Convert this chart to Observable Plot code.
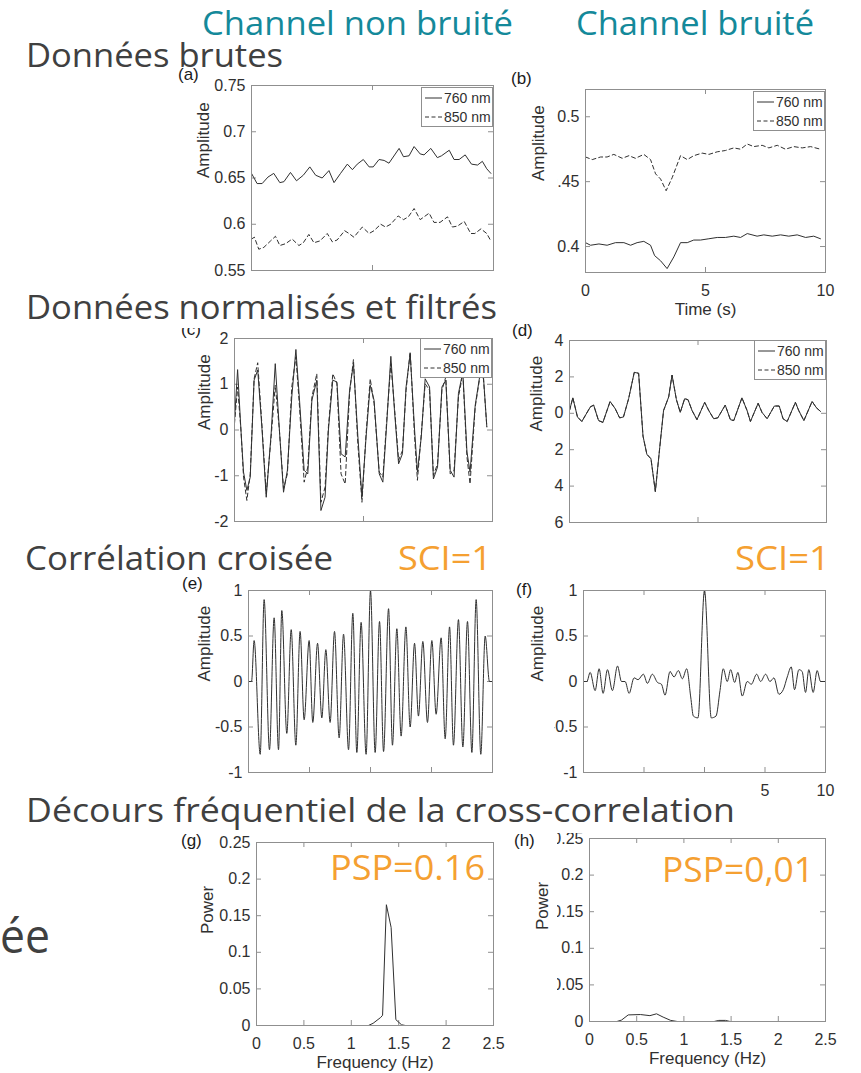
<!DOCTYPE html>
<html><head><meta charset="utf-8">
<script src="https://cdn.jsdelivr.net/npm/d3@7"></script>
<script src="https://cdn.jsdelivr.net/npm/@observablehq/plot@0.6"></script>
<style>
body{margin:0;background:#fff;}
#root{position:relative;width:861px;height:1073px;overflow:hidden;background:#fff;}
.pn{position:absolute;}
</style></head><body><div id="root"></div>
<script>
// ---------- DATA ----------
// (a) raw data, clean channel
const a760_t = [0,0.23,0.44,0.68,0.92,1.17,1.34,1.61,1.86,2.14,2.41,2.65,2.92,3.2,3.41,3.68,3.96,4.17,4.37,4.62,4.86,5.03,5.27,5.48,5.68,6.1,6.28,6.51,6.72,6.97,7.13,7.41,7.68,7.85,8.17,8.37,8.58,8.83,9.09,9.34,9.54,9.72,9.89];
const a760_v = [0.655,0.644,0.644,0.651,0.655,0.645,0.646,0.656,0.647,0.653,0.662,0.653,0.650,0.658,0.645,0.655,0.665,0.659,0.665,0.670,0.662,0.662,0.670,0.669,0.666,0.682,0.673,0.674,0.684,0.676,0.675,0.682,0.672,0.674,0.680,0.670,0.670,0.675,0.665,0.664,0.668,0.660,0.655];
const a850_t = [0,0.12,0.30,0.51,0.79,0.99,1.17,1.41,1.68,1.96,2.14,2.37,2.58,2.83,3.13,3.34,3.54,3.85,4.03,4.23,4.58,4.86,5.06,5.34,5.54,5.75,6.06,6.28,6.48,6.72,6.97,7.13,7.34,7.54,7.79,8.1,8.3,8.51,8.79,9.06,9.23,9.48,9.72,9.89];
const a850_v = [0.584,0.586,0.573,0.575,0.582,0.587,0.577,0.579,0.584,0.577,0.580,0.589,0.580,0.582,0.590,0.581,0.583,0.593,0.590,0.586,0.597,0.590,0.593,0.600,0.597,0.600,0.609,0.605,0.608,0.617,0.605,0.608,0.612,0.602,0.602,0.608,0.597,0.598,0.603,0.590,0.590,0.595,0.590,0.582];
// (b) raw data, noisy channel
const b760_t = [0,0.21,0.56,0.90,1.25,1.60,1.88,2.15,2.43,2.71,2.88,3.13,3.40,3.68,3.96,4.24,4.51,4.79,5.14,5.49,5.83,6.18,6.46,6.74,7.15,7.43,7.78,8.13,8.47,8.82,9.17,9.51,9.79];
const b760_v = [0.403,0.401,0.402,0.401,0.403,0.403,0.401,0.403,0.404,0.401,0.393,0.389,0.383,0.392,0.403,0.403,0.405,0.405,0.406,0.407,0.407,0.408,0.407,0.410,0.408,0.409,0.408,0.409,0.408,0.409,0.407,0.408,0.406];
const b850_t = [0,0.28,0.63,0.90,1.18,1.53,1.81,2.08,2.43,2.71,2.92,3.13,3.36,3.61,3.96,4.24,4.51,4.86,5.14,5.49,5.83,6.18,6.46,6.74,7.01,7.36,7.64,7.99,8.33,8.68,9.03,9.38,9.79];
const b850_v = [0.469,0.467,0.469,0.469,0.471,0.468,0.470,0.468,0.471,0.467,0.456,0.452,0.443,0.453,0.470,0.467,0.470,0.472,0.471,0.473,0.474,0.476,0.475,0.479,0.477,0.478,0.476,0.478,0.475,0.477,0.476,0.477,0.475];
// (c) normalised + filtered, clean channel
const c_t = [0,0.12,0.25,0.35,0.48,0.61,0.76,0.9,1.06,1.23,1.42,1.58,1.74,1.9,2.05,2.22,2.38,2.52,2.7,2.84,3.0,3.19,3.35,3.51,3.64,3.81,3.97,4.13,4.29,4.46,4.61,4.78,4.94,5.1,5.26,5.41,5.61,5.75,5.9,6.06,6.2,6.36,6.51,6.65,6.81,6.98,7.09,7.24,7.39,7.56,7.71,7.87,8.04,8.19,8.36,8.51,8.68,8.85,9.01,9.13,9.33,9.52,9.65,9.78];
const c760_v = [0.2,1.32,0,-0.92,-1.32,-1.03,1.09,1.31,0.07,-1.47,-0.08,1.45,0,-1.36,-0.88,0.72,1.76,0.65,-0.88,-0.96,0.65,1.09,-1.76,-1.47,0,1.09,1.05,-0.52,-0.59,0.87,1.45,-0.12,-1.47,-0.15,0.98,0.65,-0.96,-1.14,0.14,1.61,0.43,-0.74,-0.52,0.94,1.67,0,-0.92,-0.15,1.12,0.94,-1.07,-0.81,0.94,1.09,-0.88,-1.03,0.8,1.27,-0.48,-0.92,0.54,1.23,1.16,0.07];
const c850_v = [0.14,0.94,0,-1.03,-1.54,-0.96,1.12,1.47,0.14,-1.39,-0.15,0.98,0,-1.28,-0.96,0.94,1.6,0.5,-1.14,-0.81,0.72,1.23,-1.58,-1.25,0.07,1.23,1.01,-0.96,-1.18,0.8,1.54,-0.3,-1.58,-0.08,1.12,0.58,-0.92,-1.03,0.21,1.45,0.5,-0.66,-0.45,0.87,1.71,-0.15,-1.1,-0.08,1.01,0.87,-0.99,-0.74,0.87,1.16,-0.96,-0.88,0.72,1.23,-0.59,-1.18,0.5,1.2,1.12,0.07];
// (d) normalised + filtered, noisy channel
const d_t = [0,0.13,0.31,0.48,0.81,0.94,1.13,1.30,1.58,1.78,1.95,2.10,2.30,2.52,2.69,2.86,3.01,3.17,3.34,3.51,3.66,3.86,3.99,4.16,4.31,4.48,4.61,4.77,4.96,5.26,5.42,5.61,5.77,6.06,6.26,6.39,6.71,6.91,7.04,7.34,7.49,7.69,7.97,8.16,8.31,8.47,8.79,8.92,9.12,9.44,9.61,9.77];
const d760_v = [0.15,0.85,-0.2,-0.45,0.35,0.45,-0.4,-0.5,0.65,0.25,-0.25,-0.2,0.8,2.25,2.2,-1.25,-2.25,-2.5,-4.3,-1.9,0.15,0.9,2.1,0.75,0.05,0.8,0.75,0.15,-0.35,0.6,0.15,-0.3,-0.25,0.45,-0.35,-0.4,0.85,0.15,-0.45,0.55,0.05,-0.3,0.4,0.4,-0.3,-0.45,0.6,0.15,-0.4,0.65,0.3,0.1];
const d850_v = [0.15,0.85,-0.2,-0.45,0.35,0.45,-0.4,-0.5,0.65,0.25,-0.25,-0.2,0.8,2.25,2.2,-1.25,-2.25,-2.5,-4.3,-1.9,0.15,0.9,2.1,0.75,0.05,0.8,0.75,0.15,-0.35,0.6,0.15,-0.3,-0.25,0.45,-0.35,-0.4,0.85,0.15,-0.45,0.55,0.05,-0.3,0.4,0.4,-0.3,-0.45,0.6,0.15,-0.4,0.65,0.3,0.1];
// (e) cross-correlation, clean channel
const e_lag = [-10,-9.75,-9.54,-9.04,-8.72,-8.28,-7.90,-7.54,-7.27,-6.86,-6.50,-6.12,-5.77,-5.44,-5.03,-4.73,-4.34,-3.99,-3.66,-3.31,-2.95,-2.57,-2.21,-1.80,-1.45,-1.12,-0.77,-0.36,0,0.38,0.74,1.07,1.48,1.80,2.16,2.51,2.90,3.25,3.61,3.93,4.29,4.67,5.03,5.38,5.79,6.12,6.48,6.80,7.21,7.57,7.95,8.31,8.66,9.04,9.40,9.75,10];
const e_v = [0,0,0.45,-0.8,0.9,-0.75,0.7,-0.75,0.78,-0.57,0.57,-0.7,0.55,-0.42,0.45,-0.45,0.42,-0.4,0.35,-0.45,0.55,-0.62,0.52,-0.75,0.75,-0.78,0.65,-0.8,1.0,-0.78,0.66,-0.77,0.8,-0.7,0.58,-0.6,0.6,-0.5,0.42,-0.38,0.44,-0.45,0.45,-0.36,0.48,-0.63,0.6,-0.7,0.68,-0.72,0.66,-0.78,0.9,-0.8,0.5,0,0];
// (f) cross-correlation, noisy channel
const f_lag = [-10,-9.72,-9.45,-9.04,-8.71,-8.38,-8.02,-7.61,-7.19,-6.86,-6.56,-6.23,-5.82,-5.49,-5.05,-4.72,-4.31,-3.89,-3.56,-3.26,-2.85,-2.52,-2.16,-1.83,-1.47,-1.14,-0.92,-0.54,0,0.56,0.95,1.28,1.55,1.88,2.16,2.49,2.76,3.12,3.53,3.87,4.31,4.64,5.05,5.41,5.74,6.15,6.51,6.84,7.17,7.44,7.80,8.07,8.35,8.62,8.98,9.31,9.59,10];
const f_v = [0,0,0.1,-0.1,0.14,-0.13,0.13,-0.1,0.17,0,0,-0.13,0.04,0.02,0.08,-0.02,0.08,-0.01,-0.03,-0.15,0.11,0.05,0.12,0.03,0.14,-0.17,-0.38,-0.4,1.0,-0.4,-0.38,-0.1,0.14,0,0.13,-0.01,0.1,-0.16,0,-0.03,0.08,0,0.08,0,0.04,-0.14,-0.09,0.05,0.16,-0.09,0.13,0.11,-0.12,0.13,-0.12,0.12,0,0];
// (g)/(h) power spectra of the cross-correlation
const g_freq = [0,1.18,1.23,1.31,1.33,1.37,1.42,1.47,1.53,1.57,2.5];
const g_pow  = [0,0,0.003,0.011,0.014,0.165,0.134,0.008,0.001,0,0];
const h_freq = [0,0.29,0.34,0.41,0.54,0.64,0.71,0.78,0.86,0.93,1.32,1.37,1.44,1.49,2.5];
const h_pow  = [0,0,0.002,0.009,0.0095,0.008,0.0105,0.006,0.0015,0,0,0.0015,0.0015,0,0];
// ticks & labels
const timeTicks = [0,5,10];
const lagTicks = [-10,-5,0,5,10];
const freqTicks = [0,0.5,1,1.5,2,2.5];
const aTicks = [0.55,0.6,0.65,0.7,0.75];
const bTicks = [0.4,0.45,0.5];
const cTicks = [-2,-1,0,1,2];
const dTicks = [-6,-4,-2,0,2,4];
const corrTicks = [-1,-0.5,0,0.5,1];
const powTicks = [0,0.05,0.1,0.15,0.2,0.25];
const legendLabels = ["760 nm","850 nm"];
const colHeads = ["Channel non bruité","Channel bruité"];

// ---------- STYLE ----------
const FONT = "'Liberation Sans', Arial, sans-serif";
const HFONT = "'Open Sans', 'Noto Sans', sans-serif";
const INK = "#303030", FRAME = "#8f8f8f", GREY = "#404040", TEAL = "#14899a", ORANGE = "#f5a031";
const root = document.getElementById("root");
const mL = 70, mR = 10, mT = 8, mB = 58;
const fmt = d => String(d);

function panel(cfg) {
  const [x0, x1, y0, y1] = cfg.frame;
  const W = x1 - x0, H = y1 - y0;
  const marks = [
    Plot.ruleX(cfg.xTicks, {x: d => d, insetTop: H - 5, stroke: FRAME}),
    Plot.ruleX(cfg.xTicks, {x: d => d, insetBottom: H - 5, stroke: FRAME}),
    Plot.ruleY(cfg.yTicks, {y: d => d, insetLeft: W - 5, stroke: FRAME}),
    Plot.ruleY(cfg.yTicks, {y: d => d, insetRight: W - 5, stroke: FRAME}),
    Plot.axisY({ticks: cfg.yTicks, tickSize: 0, tickPadding: 6, tickFormat: fmt, label: null, fontSize: 16}),
    Plot.text([cfg.yLabel], {text: d => d, frameAnchor: "left", rotate: -90, dx: -cfg.yOff, fontSize: 17})
  ];
  if (cfg.xLabels) marks.push(Plot.axisX({ticks: cfg.xTicks, tickSize: 0, tickPadding: 12, tickFormat: cfg.xFmt || fmt, label: null, fontSize: 16}));
  if (cfg.xLabel) marks.push(Plot.text([cfg.xLabel], {text: d => d, frameAnchor: "bottom", dy: 42, fontSize: 17}));
  for (const s of cfg.series) {
    marks.push(Plot.line(d3.zip(s.x, s.y), {x: d => d[0], y: d => d[1], stroke: INK, strokeWidth: 1,
      strokeDasharray: s.dash ? "4,3" : undefined, curve: cfg.curve || "linear"}));
  }
  marks.push(Plot.frame({stroke: FRAME}));
  const chart = Plot.plot({
    width: W + mL + mR, height: H + mT + mB,
    marginLeft: mL, marginRight: mR, marginTop: mT, marginBottom: mB,
    x: cfg.xLabels ? {domain: cfg.xDomain} : {domain: cfg.xDomain, axis: null},
    y: {domain: cfg.yDomain},
    style: {fontFamily: FONT, fontSize: "16px", color: INK, background: "transparent", overflow: "visible"},
    marks
  });
  const div = document.createElement("div");
  div.className = "pn";
  div.style.left = (x0 - mL) + "px";
  div.style.top = (y0 - mT) + "px";
  div.appendChild(chart);
  root.appendChild(div);
  return chart;
}

const P = {
  a: {frame: [251, 493, 85, 270], xDomain: [0, 10], yDomain: [0.55, 0.75], xTicks: timeTicks, yTicks: aTicks, yLabel: "Amplitude", yOff: 48,
      series: [{x: a760_t, y: a760_v}, {x: a850_t, y: a850_v, dash: true}]},
  b: {frame: [585, 825, 89, 272], xDomain: [0, 10], yDomain: [0.38, 0.521], xTicks: timeTicks, yTicks: bTicks, yLabel: "Amplitude", yOff: 47,
      xLabels: true, xLabel: "Time (s)", series: [{x: b760_t, y: b760_v}, {x: b850_t, y: b850_v, dash: true}]},
  c: {frame: [234, 492, 338, 521], xDomain: [0, 10], yDomain: [-2, 2], xTicks: timeTicks, yTicks: cTicks, yLabel: "Amplitude", yOff: 30,
      series: [{x: c_t, y: c760_v}, {x: c_t, y: c850_v, dash: true}]},
  d: {frame: [569, 826, 340, 522], xDomain: [0, 10], yDomain: [-6, 4], xTicks: timeTicks, yTicks: dTicks, yLabel: "Amplitude", yOff: 33,
      series: [{x: d_t, y: d760_v}, {x: d_t, y: d850_v, dash: true}]},
  e: {frame: [248, 492, 590, 772], xDomain: [-10, 10], yDomain: [-1, 1], xTicks: lagTicks, yTicks: corrTicks, yLabel: "Amplitude", yOff: 44,
      curve: "monotone-x", series: [{x: e_lag, y: e_v}]},
  f: {frame: [583, 825, 590, 772], xDomain: [-10, 10], yDomain: [-1, 1], xTicks: lagTicks, yTicks: corrTicks, yLabel: "Amplitude", yOff: 46,
      xLabels: true, xFmt: d => d > 0 ? String(d) : "", curve: "monotone-x", series: [{x: f_lag, y: f_v}]},
  g: {frame: [256, 493, 842, 1025], xDomain: [0, 2.5], yDomain: [0, 0.25], xTicks: freqTicks, yTicks: powTicks, yLabel: "Power", yOff: 49,
      xLabels: true, xLabel: "Frequency (Hz)", series: [{x: g_freq, y: g_pow}]},
  h: {frame: [589, 825, 838, 1021], xDomain: [0, 2.5], yDomain: [0, 0.25], xTicks: freqTicks, yTicks: powTicks, yLabel: "Power", yOff: 47,
      xLabels: true, xLabel: "Frequency (Hz)", series: [{x: h_freq, y: h_pow}]}
};
const charts = {};
for (const k of Object.keys(P)) charts[k] = panel(P[k]);

// ---------- OVERLAY ----------
const ov = d3.select(root).append("svg").attr("width", 861).attr("height", 1073)
  .style("position", "absolute").style("left", "0px").style("top", "0px");

// partially hidden tick labels (cropped in the original slide)
const masks = [["b", [0.45], 547, 557], ["d", [-2, -4, -6], 546, 554], ["f", [-0.5], 546, 554.5], ["h", [0.25, 0.15, 0.05], 550, 557]];
for (const [k, vals, mx0, mx1] of masks) {
  const sy = charts[k].scale("y");
  for (const v of vals) {
    const yy = P[k].frame[2] - mT + sy.apply(v);
    ov.append("rect").attr("x", mx0).attr("y", yy - 9).attr("width", mx1 - mx0).attr("height", 18).attr("fill", "#fff");
  }
}

// panel letters
const letters = [["(a)", 178, 80], ["(b)", 511, 84], ["(c)", 181, 335], ["(d)", 512, 336], ["(e)", 182, 589], ["(f)", 516, 595], ["(g)", 181, 846], ["(h)", 514, 846]];
for (const [t, x, y] of letters) ov.append("text").attr("x", x).attr("y", y).attr("font-family", FONT).attr("font-size", 17).attr("fill", "#1a1a1a").text(t);

// white boxes behind slide titles
ov.append("rect").attr("x", 18).attr("y", 276).attr("width", 482).attr("height", 52).attr("fill", "#fff");
ov.append("rect").attr("x", 18).attr("y", 795).attr("width", 720).attr("height", 38).attr("fill", "#fff");

function htext(t, x, y, len, size, color) {
  ov.append("text").attr("x", x).attr("y", y).attr("font-family", HFONT).attr("font-size", size)
    .attr("fill", color).attr("textLength", len).attr("lengthAdjust", "spacingAndGlyphs").text(t);
}
htext(colHeads[0], 202, 35, 311, 33, TEAL);
htext(colHeads[1], 576, 35, 238, 33, TEAL);
htext("Données brutes", 26, 67, 257, 33, GREY);
htext("Données normalisés et filtrés", 26, 319, 471, 33, GREY);
htext("Corrélation croisée", 25, 570, 308, 33, GREY);
htext("SCI=1", 398, 570, 94, 33, ORANGE);
htext("SCI=1", 735, 570, 95, 33, ORANGE);
htext("Décours fréquentiel de la cross-correlation", 26, 822, 709, 33, GREY);
htext("ée", 0, 953, 50, 48, GREY);
htext("PSP=0.16", 330, 880, 155, 34, ORANGE);
htext("PSP=0,01", 662, 882, 152, 34, ORANGE);

// legends
function legend(k, dy) {
  const [x0, x1, y0] = P[k].frame;
  const w = 72, h = 39, lx = x1 - w, ly = y0 + dy;
  const g = ov.append("g");
  g.append("rect").attr("x", lx + 0.5).attr("y", ly + 0.5).attr("width", w - 1).attr("height", h).attr("fill", "#fff").attr("stroke", FRAME);
  legendLabels.forEach((lab, i) => {
    const cy = ly + 11 + i * 19;
    g.append("line").attr("x1", lx + 4).attr("x2", lx + 21).attr("y1", cy).attr("y2", cy)
      .attr("stroke", INK).attr("stroke-dasharray", i ? "4,2.5" : null);
    g.append("text").attr("x", lx + 23).attr("y", cy + 5).attr("font-family", FONT).attr("font-size", 14).attr("fill", INK).text(lab);
  });
}
legend("a", 2); legend("b", 2); legend("c", 0); legend("d", 0);
</script>
</body></html>
